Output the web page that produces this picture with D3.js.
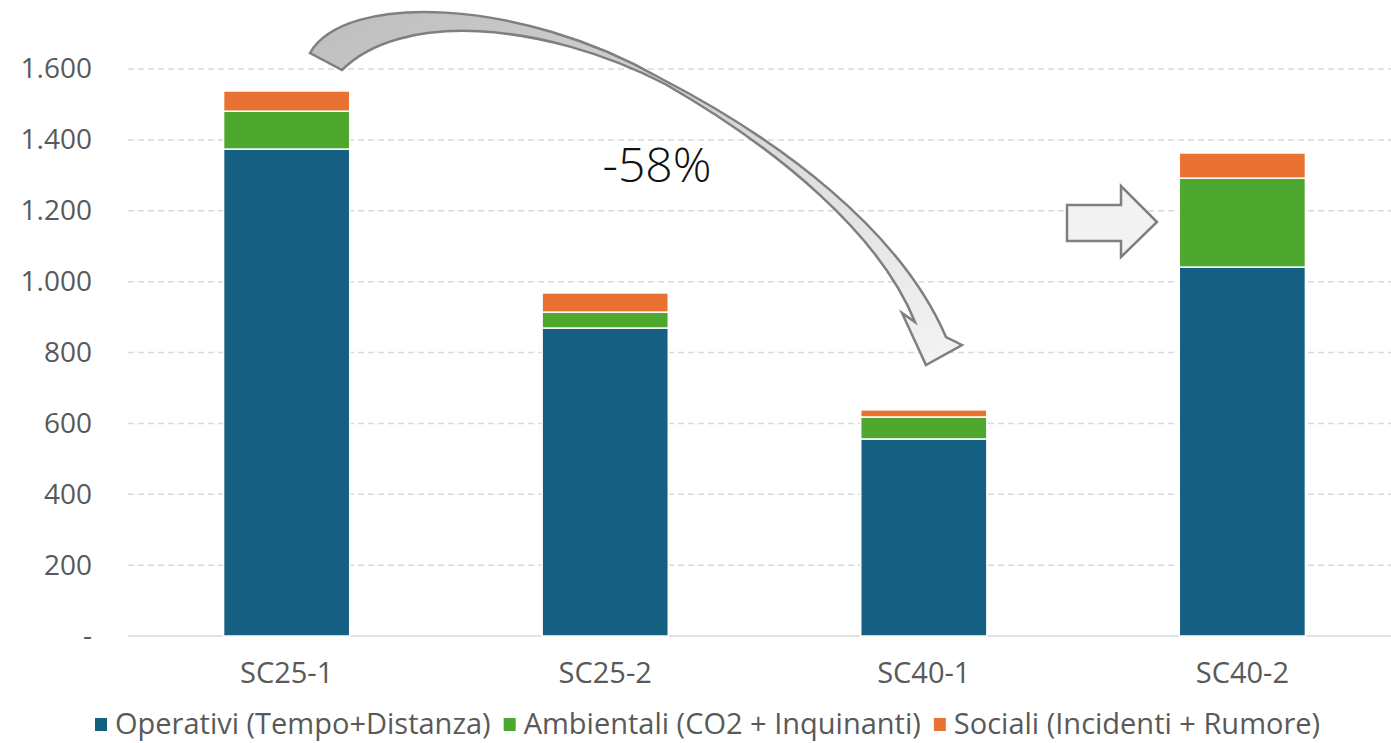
<!DOCTYPE html>
<html>
<head>
<meta charset="utf-8">
<script src="https://cdn.jsdelivr.net/npm/d3@7"></script>
<style>
  body { margin: 0; background: #fff; }
  svg { display: block; font-family: "Open Sans", sans-serif; }
</style>
</head>
<body>
<script>
const categories = ['SC25-1', 'SC25-2', 'SC40-1', 'SC40-2'];
const operativi = [1374, 869, 556, 1041];
const ambientali = [107, 45, 62, 251];
const sociali = [57, 54, 20, 71];
const seriesNames = ['Operativi (Tempo+Distanza)', 'Ambientali (CO2 + Inquinanti)', 'Sociali (Incidenti + Rumore)'];
const yTicks = [0, 200, 400, 600, 800, 1000, 1200, 1400, 1600];

const W = 1391, H = 743;
const colors = ['#156082', '#4ea72e', '#e97132'];

const svg = d3.select('body').append('svg')
  .attr('width', W)
  .attr('height', H);

const x = d3.scaleBand()
  .domain(categories)
  .range([128, 1401])
  .paddingInner(0.604)
  .paddingOuter(0.3);

const y = d3.scaleLinear()
  .domain([0, 1600])
  .range([636, 69]);

const locale = d3.formatLocale({ decimal: ',', thousands: '.', grouping: [3], currency: ['', ''] });
const fmt = locale.format(',d');

// gridlines
svg.append('g')
  .selectAll('line')
  .data(yTicks.filter(d => d > 0))
  .join('line')
  .attr('x1', 128).attr('x2', W)
  .attr('y1', d => y(d)).attr('y2', d => y(d))
  .attr('stroke', '#d9d9d9')
  .attr('stroke-width', 1.5)
  .attr('stroke-dasharray', '6,4');

svg.append('line')
  .attr('x1', 128).attr('x2', W)
  .attr('y1', y(0)).attr('y2', y(0))
  .attr('stroke', '#d9d9d9')
  .attr('stroke-width', 1.5);

// y axis labels
const yAxis = svg.append('g')
  .attr('transform', 'translate(92,0)')
  .call(d3.axisLeft(y).tickValues(yTicks).tickSize(0).tickPadding(0)
    .tickFormat(d => d === 0 ? '-' : fmt(d)));
yAxis.select('.domain').remove();
yAxis.selectAll('text')
  .attr('fill', '#595959')
  .style('font-size', '28px')
  .style('font-family', '"Open Sans", sans-serif');

// x axis labels
const xAxis = svg.append('g')
  .attr('transform', `translate(0,${y(0)})`)
  .call(d3.axisBottom(x).tickSize(0).tickPadding(26));
xAxis.select('.domain').remove();
xAxis.selectAll('text')
  .attr('fill', '#595959')
  .style('font-size', '29px')
  .style('font-family', '"Open Sans", sans-serif');

// stacked bars
const table = categories.map((c, i) => ({ cat: c, op: operativi[i], amb: ambientali[i], soc: sociali[i] }));
const stack = d3.stack().keys(['op', 'amb', 'soc'])(table);

svg.append('g')
  .selectAll('g')
  .data(stack)
  .join('g')
  .attr('fill', (d, i) => colors[i])
  .selectAll('rect')
  .data(d => d)
  .join('rect')
  .attr('x', d => x(d.data.cat))
  .attr('width', x.bandwidth())
  .attr('y', d => y(d[1]))
  .attr('height', d => y(d[0]) - y(d[1]))
  .attr('stroke', '#fff')
  .attr('stroke-width', 1.5);

// curved arrow annotation
const defs = svg.append('defs');
const grad = defs.append('linearGradient')
  .attr('id', 'arrowGrad')
  .attr('x1', '0%').attr('y1', '0%')
  .attr('x2', '100%').attr('y2', '100%');
grad.append('stop').attr('offset', '0%').attr('stop-color', '#bdbdbd');
grad.append('stop').attr('offset', '100%').attr('stop-color', '#f4f4f4');

svg.append('path')
  .attr('d', 'M310,53 C345,-8 520,-2 660,78 C780,140 900,230 946,337 L962,345 L926,365 L902,313 L915,322 ' +
    'C880,235 780,150 665,84 C540,20 400,12 342,70 Z')
  .attr('fill', 'url(#arrowGrad)')
  .attr('stroke', '#7f7f7f')
  .attr('stroke-width', 2.5)
  .attr('stroke-linejoin', 'miter');

svg.append('text')
  .attr('x', 657)
  .attr('y', 182)
  .attr('text-anchor', 'middle')
  .style('font-size', '48px')
  .style('font-weight', 300)
  .attr('fill', '#111')
  .text('-58%');

// block arrow
svg.append('path')
  .attr('d', 'M1067,205 L1121,205 L1121,186 L1157,222 L1121,257 L1121,241 L1067,241 Z')
  .attr('fill', '#f2f2f2')
  .attr('stroke', '#7f7f7f')
  .attr('stroke-width', 2.5);

// legend
const legend = svg.append('g').attr('transform', 'translate(95,724)');
let lx = 0;
seriesNames.forEach((name, i) => {
  legend.append('rect')
    .attr('x', lx).attr('y', -6)
    .attr('width', 12).attr('height', 13)
    .attr('fill', colors[i]);
  const t = legend.append('text')
    .attr('x', lx + 20)
    .attr('y', 0)
    .attr('dy', '0.35em')
    .attr('fill', '#595959')
    .style('font-size', '29px')
    .text(name);
  lx += 20 + t.node().getComputedTextLength() + 13;
});
</script>
</body>
</html>
